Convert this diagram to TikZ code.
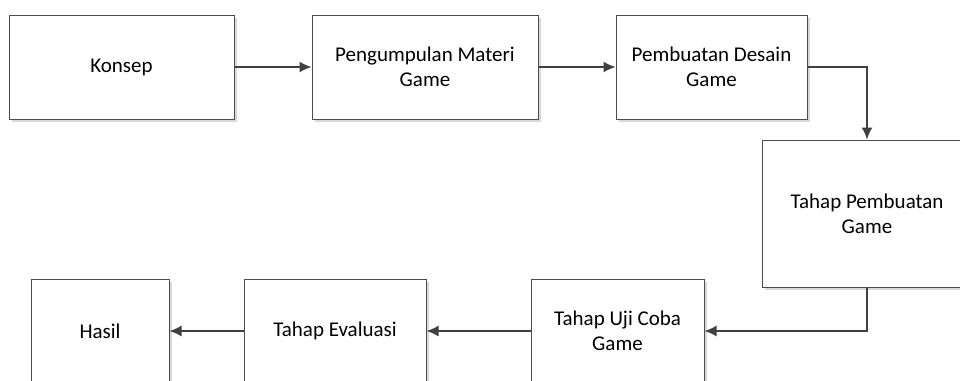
\documentclass[tikz,border=0pt]{standalone}
\usepackage{fontspec}
\setmainfont{Carlito}
\usetikzlibrary{arrows.meta,shadows}

\begin{document}
\begin{tikzpicture}[x=1pt,y=-1pt,
	tahap/.style={rectangle, draw=black!70, line width=1pt, fill=white, align=center,
		inner sep=0pt, font=\fontsize{21}{25}\selectfont,
		drop shadow={shadow xshift=3pt, shadow yshift=-3pt, fill=black!15, opacity=1}},
	alur/.style={->, >={Latex[length=12pt,width=11pt]}, draw=black!75, line width=1.5pt}]
	\useasboundingbox (0,0) rectangle (960,380);
	% urutan tahap pembuatan game
	\node[tahap, minimum width=225pt, minimum height=104pt] (konsep) at (121.5,67) {Konsep};
	\node[tahap, minimum width=226pt, minimum height=104pt] (materi) at (425,67) {Pengumpulan Materi\\Game};
	\node[tahap, minimum width=191pt, minimum height=104pt] (desain) at (711.5,67) {Pembuatan Desain\\Game};
	\node[tahap, minimum width=210pt, minimum height=147pt] (buat) at (867,213.5) {Tahap Pembuatan\\Game};
	\node[tahap, minimum width=173pt, minimum height=104pt] (uji) at (617.5,331) {Tahap Uji Coba\\Game};
	\node[tahap, minimum width=182pt, minimum height=104pt] (evaluasi) at (335,331) {Tahap Evaluasi};
	\node[tahap, minimum width=138pt, minimum height=104pt] (hasil) at (100,331) {Hasil};

	\draw[alur] (konsep) -- (materi);
	\draw[alur] (materi) -- (desain);
	\draw[alur] (desain.east) -| (buat.north);
	\draw[alur] (buat.south) |- (uji.east);
	\draw[alur] (uji) -- (evaluasi);
	\draw[alur] (evaluasi) -- (hasil);
\end{tikzpicture}
\end{document}
